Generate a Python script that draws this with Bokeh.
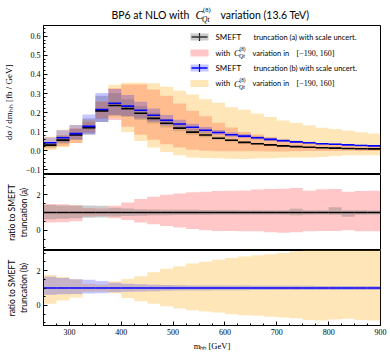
import numpy as np
from bokeh.plotting import figure
from bokeh.layouts import column
from bokeh.models import Range1d, FixedTicker, Label, BoxAnnotation, CustomJSTickFormatter
from bokeh.embed import file_html
from bokeh.resources import INLINE

# ---------------- data ----------------
edges = [250, 275, 300, 325, 350, 375, 400, 425, 450, 475, 500, 525, 550, 575,
         600, 625, 650, 675, 700, 725, 750, 775, 800, 825, 850, 875, 900]

# central values dsigma/dm_hh [fb/GeV]
central_a = [0.030, 0.056, 0.083, 0.121, 0.209, 0.237, 0.221, 0.197, 0.170, 0.144,
             0.119, 0.098, 0.083, 0.066, 0.055, 0.044, 0.037, 0.031, 0.026, 0.022,
             0.019, 0.016, 0.014, 0.012, 0.011, 0.010]
central_b = [0.042, 0.068, 0.090, 0.128, 0.216, 0.249, 0.234, 0.212, 0.186, 0.160,
             0.140, 0.123, 0.108, 0.096, 0.084, 0.077, 0.068, 0.060, 0.053, 0.047,
             0.042, 0.037, 0.034, 0.031, 0.028, 0.026]

# ratio bands, truncation (a)
scale_a_lo = [0.62, 0.65, 0.68, 0.70, 0.72, 0.78, 0.80, 0.82, 0.84, 0.85, 0.86, 0.86, 0.86,
              0.87, 0.87, 0.87, 0.87, 0.87, 0.87, 0.85, 0.87, 0.88, 0.87, 0.76, 0.87, 0.88]
scale_a_hi = [1.42, 1.40, 1.38, 1.40, 1.38, 1.27, 1.22, 1.19, 1.17, 1.16, 1.15, 1.15, 1.14,
              1.14, 1.14, 1.13, 1.13, 1.13, 1.13, 1.21, 1.13, 1.13, 1.29, 1.13, 1.13, 1.12]
cvar_a_lo = [0.43, 0.45, 0.50, 0.78, 0.80, 0.68, 0.57, 0.43, 0.34, 0.24, 0.15, 0.06, 0.00,
             -0.04, -0.05, -0.06, -0.06, -0.12, -0.15, -0.12, -0.06, -0.04, -0.04, 0.00, -0.06, -0.06]
cvar_a_hi = [1.48, 1.46, 1.42, 1.25, 1.22, 1.38, 1.57, 1.76, 1.89, 2.00, 2.08, 2.14, 2.18,
             2.22, 2.23, 2.25, 2.30, 2.33, 2.35, 2.38, 2.23, 2.32, 2.33, 2.17, 2.22, 2.23]

# ratio bands, truncation (b)
scale_b_lo = [0.62, 0.64, 0.66, 0.68, 0.70, 0.75, 0.78, 0.80, 0.82, 0.84, 0.85, 0.86, 0.86,
              0.87, 0.87, 0.87, 0.88, 0.88, 0.88, 0.88, 0.89, 0.89, 0.89, 0.89, 0.89, 0.89]
scale_b_hi = [1.65, 1.58, 1.50, 1.48, 1.40, 1.30, 1.25, 1.21, 1.19, 1.17, 1.16, 1.15, 1.15,
              1.14, 1.14, 1.14, 1.13, 1.13, 1.13, 1.13, 1.13, 1.12, 1.12, 1.12, 1.12, 1.12]
cvar_b_lo = [0.09, 0.28, 0.46, 0.78, 0.80, 0.70, 0.42, 0.24, 0.09, -0.04, -0.17, -0.28, -0.35,
             -0.41, -0.50, -0.56, -0.59, -0.65, -0.69, -0.74, -0.83, -0.87, -0.80, -0.77, -0.83, -0.87]
cvar_b_hi = [1.75, 1.63, 1.50, 1.25, 1.20, 1.39, 1.52, 1.68, 1.90, 2.10, 2.25, 2.40, 2.50,
             2.62, 2.72, 2.80, 2.88, 2.94, 3.00, 3.10, 3.20, 3.28, 3.35, 3.40, 3.45, 3.50]

x_ticks = [300, 400, 500, 600, 700, 800, 900]
y_ticks_top = [-0.1, 0.0, 0.1, 0.2, 0.3, 0.4, 0.5, 0.6]
y_ticks_ratio = [0, 2]
cvar_label = "[\u2212190, 160]"

# ---------------- styling ----------------
GRAY, RED, BLUE, ORANGE = "gray", "red", "blue", "orange"
A_GRAY, A_RED, A_BLUE, A_ORANGE = 0.4, 0.22, 0.22, 0.28
SANS = "Lato"
SERIF = "Liberation Serif"

FW = 337
xr = Range1d(250, 900)
Y1 = (-0.124, 0.656)
YR = (-1.15, 3.15)


def make(fh, yr, top, bottom, x_range=xr):
    p = figure(frame_width=FW, frame_height=fh, x_range=x_range, y_range=Range1d(*yr),
               output_backend="svg", toolbar_location=None,
               min_border_left=40, min_border_right=13,
               min_border_top=top, min_border_bottom=bottom)
    p.grid.visible = False
    p.outline_line_color = "black"
    p.outline_line_width = 1
    p.outline_line_alpha = 1
    p.background_fill_color = "white"
    p.border_fill_color = "white"
    for ax in p.axis:
        ax.major_tick_in = 4
        ax.major_tick_out = 0
        ax.minor_tick_in = 2
        ax.minor_tick_out = 0
        ax.axis_line_color = "black"
        ax.major_tick_line_color = "black"
        ax.minor_tick_line_color = "black"
        ax.major_label_text_font = SERIF
        ax.major_label_text_font_size = "8px"
        ax.major_label_text_color = "black"
        ax.major_label_standoff = 3
        ax.axis_label_standoff = 5
        ax.axis_label_text_font_size = "8.5px"
        ax.axis_label_text_font_style = "normal"
        ax.axis_label_text_color = "black"
    return p


def band(p, lo, hi, color, alpha):
    p.varea_step(x=edges, y1=list(lo) + [lo[-1]], y2=list(hi) + [hi[-1]],
                 step_mode="after", fill_color=color, fill_alpha=alpha)


def steps(p, vals, color):
    p.segment(x0=edges[:-1], x1=edges[1:], y0=vals, y1=vals, line_color=color, line_width=1.6)


def mul(c, r):
    return [ci * ri for ci, ri in zip(c, r)]


# ---------------- title strip (page-pixel coordinates, same frame geometry) ----------------
pt = make(25, (25, 0), 0, 0, x_range=Range1d(40, 377))
pt.axis.visible = False
pt.outline_line_color = None


def tlab(text, px, py, size, font=SANS, style="normal"):
    pt.add_layout(Label(x=px, y=py, text=text, text_font=font, text_font_size=size,
                        text_font_style=style, text_baseline="middle", text_align="left",
                        text_color="black"))


tlab("BP6 at NLO with", 108, 14, "10.5px")
tlab("C", 192, 14, "11.5px", SERIF, "italic")
tlab("Qt", 198.5, 18.5, "7.5px", SERIF, "italic")
tlab("(8)", 199.5, 9, "6.5px", SERIF)
tlab("variation (13.6 TeV)", 217, 14, "10.5px")

# ---------------- top panel ----------------
p1 = make(149, Y1, 0, 0)
p1.xaxis.visible = False
band(p1, mul(central_a, cvar_a_lo), mul(central_a, cvar_a_hi), RED, A_RED)
band(p1, mul(central_a, scale_a_lo), mul(central_a, scale_a_hi), GRAY, A_GRAY)
band(p1, mul(central_b, cvar_b_lo), mul(central_b, cvar_b_hi), ORANGE, A_ORANGE)
band(p1, mul(central_b, scale_b_lo), mul(central_b, scale_b_hi), BLUE, A_BLUE)
steps(p1, central_a, "black")
steps(p1, central_b, "blue")

p1.yaxis.ticker = FixedTicker(ticks=y_ticks_top,
                              minor_ticks=[round(v, 2) for v in np.arange(-0.12, 0.66, 0.02)])
p1.yaxis.formatter = CustomJSTickFormatter(
    code="return (tick < 0 ? '\u2212' : '') + Math.abs(tick).toFixed(1);")
p1.yaxis.axis_label = "d\u03c3 / dm\u2095\u2095   [fb / GeV]"
p1.yaxis.axis_label_text_font = SERIF
p1.yaxis.axis_label_text_font_size = "9px"
p1.yaxis.axis_label_standoff = 9


# pixel -> data helpers for the top panel (page pixel coordinates)
def X(px):
    return 250 + (px - 40) * 650.0 / 337.0


def Y(py):
    return Y1[1] - (py - 25) * (Y1[1] - Y1[0]) / 149.0


def lab(text, px, py, size, font=SANS, style="normal"):
    p1.add_layout(Label(x=X(px), y=Y(py), text=text, text_font=font, text_font_size=size,
                        text_font_style=style, text_baseline="middle", text_align="left",
                        text_color="black"))


def cqt(px, py, s):
    lab("C", px, py, "%.1fpx" % (s * 1.1), SERIF, "italic")
    lab("Qt", px + 0.62 * s, py + 0.42 * s, "%.1fpx" % (s * 0.72), SERIF, "italic")
    lab("(8)", px + 0.68 * s, py - 0.45 * s, "%.1fpx" % (s * 0.62), SERIF)


# legend
rows = [36.5, 52.5, 67.5, 83]
pcol = [(GRAY, A_GRAY), (RED, A_RED), (BLUE, A_BLUE), (ORANGE, A_ORANGE)]
for r, (c, a) in zip(rows, pcol):
    p1.add_layout(BoxAnnotation(left=X(187), right=X(205), top=Y(r - 3.5), bottom=Y(r + 3.5),
                                fill_color=c, fill_alpha=a, line_color=None))
for r, c in [(rows[0], "black"), (rows[2], "blue")]:
    p1.segment(x0=[X(188)], x1=[X(204)], y0=[Y(r)], y1=[Y(r)], line_color=c, line_width=1.6)
    p1.segment(x0=[X(196)], x1=[X(196)], y0=[Y(r - 4)], y1=[Y(r + 4)], line_color=c, line_width=1.2)

lab("SMEFT", 212, rows[0], "8px")
lab("truncation (a) with scale uncert.", 250, rows[0], "7.5px")
lab("SMEFT", 212, rows[2], "8px")
lab("truncation (b) with scale uncert.", 250, rows[2], "7.5px")
for r in (rows[1], rows[3]):
    lab("with", 212, r, "7.5px")
    cqt(230.5, r, 8.2)
    lab("variation in", 249, r, "7.5px")
    lab(cvar_label, 293, r, "8px", SERIF)

# ---------------- ratio (a) ----------------
p2 = make(76, YR, 0, 0)
p2.xaxis.visible = False
band(p2, cvar_a_lo, cvar_a_hi, RED, A_RED)
band(p2, scale_a_lo, scale_a_hi, GRAY, A_GRAY)
steps(p2, [c / c for c in central_a], "black")
p2.yaxis.ticker = FixedTicker(ticks=y_ticks_ratio, minor_ticks=[-1, -0.5, 0.5, 1, 1.5, 2.5, 3])
p2.yaxis.axis_label = "ratio to SMEFT\ntruncation (a)"
p2.yaxis.axis_label_text_font = SANS

# ---------------- ratio (b) ----------------
p3 = make(75, YR, 0, 30)
band(p3, cvar_b_lo, cvar_b_hi, ORANGE, A_ORANGE)
band(p3, scale_b_lo, scale_b_hi, BLUE, A_BLUE)
steps(p3, [c / c for c in central_b], "blue")
p3.yaxis.ticker = FixedTicker(ticks=y_ticks_ratio, minor_ticks=[-1, -0.5, 0.5, 1, 1.5, 2.5, 3])
p3.yaxis.axis_label = "ratio to SMEFT\ntruncation (b)"
p3.yaxis.axis_label_text_font = SANS
p3.xaxis.ticker = FixedTicker(ticks=x_ticks, minor_ticks=edges)
p3.xaxis.axis_label = "m\u2095\u2095 [GeV]"
p3.xaxis.axis_label_text_font = SERIF
p3.xaxis.axis_label_standoff = 3

layout = column(pt, p1, p2, p3, spacing=0)
open("out.html", "w").write(file_html(layout, INLINE))
